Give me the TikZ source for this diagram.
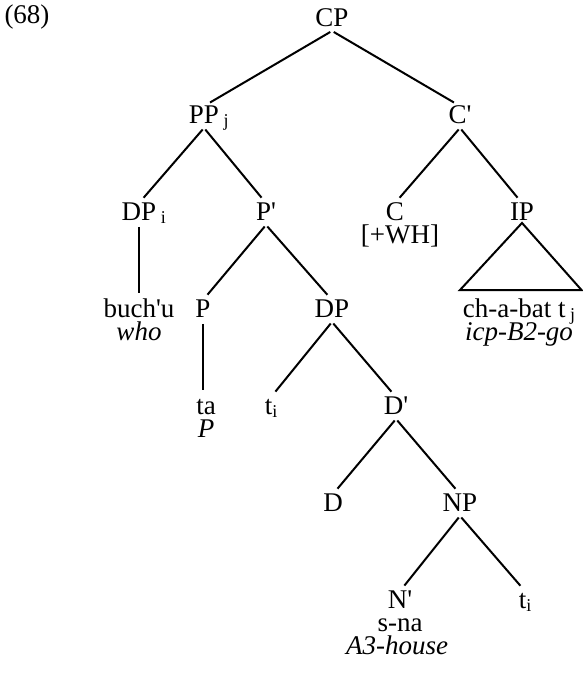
\documentclass[tikz,border=0pt]{standalone}
\usepackage{fontspec}
\setmainfont{Liberation Serif}
\newcommand\lsub[1]{\raisebox{-0.3ex}{\fontsize{18}{18}\selectfont #1}}
\newcommand\apos{\textquotesingle}
\begin{document}
\begin{tikzpicture}[x=1pt,y=-1pt,
  lbl/.style={inner sep=0pt, text height=17pt, text depth=4.5pt, font=\fontsize{27}{29}\selectfont},
  gloss/.style={lbl, font=\fontsize{27}{29}\selectfont\itshape},
  edge/.style={line width=2pt, shorten >=7pt, shorten <=2pt}]
\useasboundingbox (0,0) rectangle (583,678);
\node[lbl] (num) at (27,17) {(68)};
% level 0
\node[lbl] (CP) at (332,20) {CP};
% level 1
\node[lbl] (PPj) at (204,117) {PP\rlap{\,\lsub{j}}};
\node[lbl] (Cbar) at (460,117) {C\apos};
% level 2
\node[lbl] (DPi) at (139,214) {DP\rlap{\,\lsub{i}}};
\node[lbl] (Pbar) at (266,214) {P\apos};
\node[lbl] (C) at (395,214) {C};
\node[lbl] (WH) at (400,237) {[+WH]};
\node[lbl] (IP) at (522,214) {IP};
% level 3
\node[lbl] (buchu) at (139,311) {buch\apos u};
\node[gloss] (who) at (139,334) {who};
\node[lbl] (P) at (203,311) {P};
\node[lbl] (DP) at (332,311) {DP};
\node[lbl] (chabat) at (519,311) {ch-a-bat t\,\lsub{j}};
\node[gloss] (icp) at (519,334) {icp-B2-go};
% level 4
\node[lbl] (ta) at (206,408) {ta};
\node[gloss] (Pgl) at (206,431) {P};
\node[lbl] (ti1) at (271,408) {t\lsub{i}};
\node[lbl] (Dbar) at (396,408) {D\apos};
% level 5
\node[lbl] (D) at (333,505) {D};
\node[lbl] (NP) at (460,505) {NP};
% level 6
\node[lbl] (Nbar) at (400,602) {N\apos};
\node[lbl] (sna) at (400,625) {s-na};
\node[gloss] (house) at (397,648) {A3-house};
\node[lbl] (ti2) at (525,602) {t\lsub{i}};
% edges
\draw[edge] (CP.south) -- (PPj.north);
\draw[edge] (CP.south) -- (Cbar.north);
\draw[edge] (PPj.south) -- (DPi.north);
\draw[edge] (PPj.south) -- (Pbar.north);
\draw[edge] (Cbar.south) -- (C.north);
\draw[edge] (Cbar.south) -- (IP.north);
\draw[edge] (DPi.south) -- (buchu.north);
\draw[edge] (Pbar.south) -- (P.north);
\draw[edge] (Pbar.south) -- (DP.north);
\draw[edge] (P.south) -- (P.south |- ta.north);
\draw[edge] (DP.south) -- (ti1.north);
\draw[edge] (DP.south) -- (Dbar.north);
\draw[edge] (Dbar.south) -- (D.north);
\draw[edge] (Dbar.south) -- (NP.north);
\draw[edge] (NP.south) -- (Nbar.north);
\draw[edge] (NP.south) -- (ti2.north);
% triangle
\coordinate (triL) at (460,290);
\coordinate (triR) at (581.5,290);
\draw[line width=2pt, line join=miter] ([yshift=2pt]IP.south) -- (triL) -- (triR) -- cycle;
\end{tikzpicture}
\end{document}
